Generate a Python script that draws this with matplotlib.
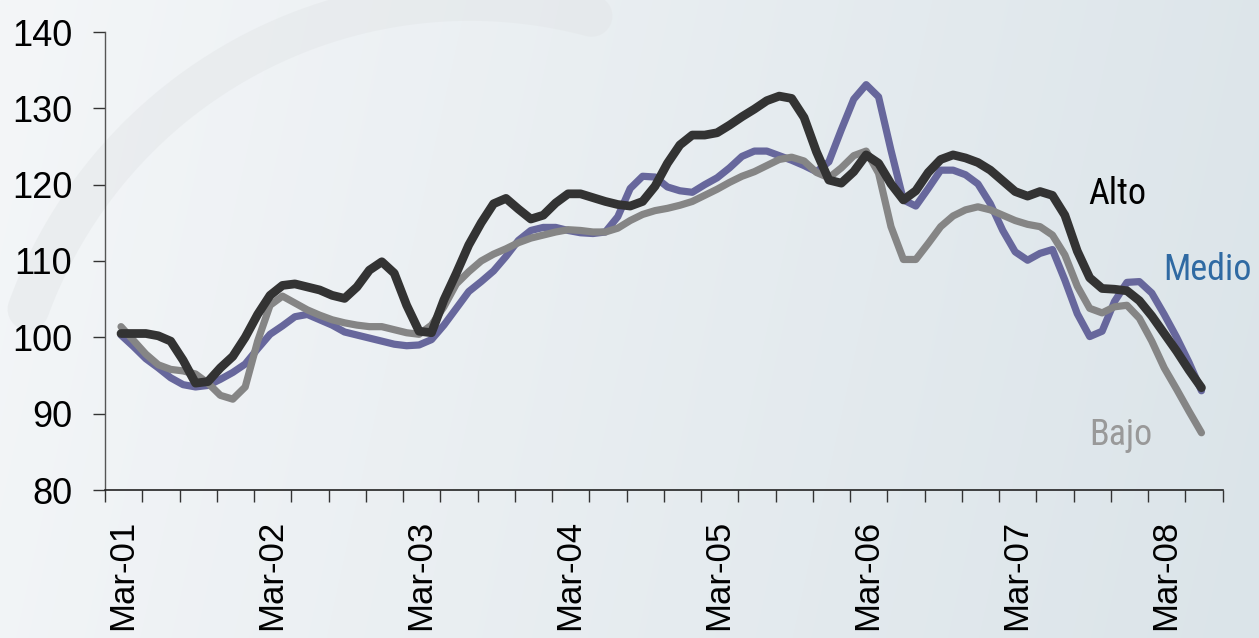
import numpy as np
import matplotlib
matplotlib.use("Agg")
import matplotlib.pyplot as plt
from matplotlib import font_manager
from matplotlib.transforms import blended_transform_factory

# ---- data (monthly, Mar-01 .. Jun-08) ----
alto = [100.5, 100.5, 100.5, 100.2, 99.5, 97.0, 94.0, 94.2, 96.0, 97.5, 100.0, 103.0,
        105.5, 106.8, 107.0, 106.6, 106.2, 105.5, 105.1, 106.6, 108.8, 109.9, 108.4, 104.2,
        100.8, 100.6, 104.9, 108.4, 112.1, 115.0, 117.5, 118.2, 116.8, 115.5, 116.0, 117.6,
        118.8, 118.8, 118.3, 117.8, 117.4, 117.2, 117.8, 119.8, 122.8, 125.2, 126.5, 126.5,
        126.8, 127.8, 128.9, 129.9, 131.0, 131.6, 131.3, 128.8, 124.3, 120.6, 120.2, 121.7,
        123.9, 122.8, 120.1, 118.0, 119.2, 121.6, 123.3, 123.9, 123.5, 122.9, 121.9, 120.5,
        119.1, 118.5, 119.1, 118.6, 116.0, 111.3, 107.8, 106.4, 106.3, 106.1, 104.8, 102.8,
        100.5, 98.2, 95.7, 93.4]
medio = [100.3, 98.8, 97.2, 96.0, 94.7, 93.8, 93.5, 93.7, 94.5, 95.4, 96.5, 98.5,
         100.4, 101.5, 102.7, 103.0, 102.3, 101.6, 100.7, 100.3, 99.9, 99.5, 99.1, 98.9,
         99.0, 99.7, 101.6, 103.8, 106.0, 107.3, 108.7, 110.6, 112.7, 114.0, 114.4, 114.4,
         114.0, 113.7, 113.6, 113.8, 115.8, 119.5, 121.1, 121.0, 119.7, 119.2, 119.0, 120.0,
         120.9, 122.2, 123.7, 124.4, 124.4, 123.8, 123.2, 122.5, 121.7, 123.0, 127.2, 131.2,
         133.1, 131.5, 124.5, 118.0, 117.2, 119.5, 121.9, 121.9, 121.3, 120.1, 117.5, 114.0,
         111.2, 110.1, 111.0, 111.5, 107.5, 103.1, 100.1, 100.8, 104.7, 107.2, 107.3, 105.8,
         103.0, 100.0, 96.7, 93.0]
bajo = [101.4, 99.6, 97.8, 96.4, 95.8, 95.6, 95.2, 94.0, 92.4, 91.9, 93.5, 99.5,
        104.2, 105.4, 104.5, 103.6, 102.9, 102.3, 101.9, 101.6, 101.4, 101.4, 101.0, 100.6,
        100.4, 101.6, 104.0, 107.0, 108.6, 110.0, 110.9, 111.6, 112.4, 113.0, 113.4, 113.8,
        114.1, 114.0, 113.8, 113.8, 114.3, 115.3, 116.1, 116.6, 116.9, 117.3, 117.8, 118.6,
        119.4, 120.3, 121.1, 121.7, 122.5, 123.3, 123.6, 123.1, 121.6, 120.9, 122.2, 123.8,
        124.4, 121.5, 114.5, 110.2, 110.2, 112.3, 114.5, 115.9, 116.7, 117.1, 116.7, 116.0,
        115.3, 114.8, 114.5, 113.4, 110.8, 106.7, 103.8, 103.2, 104.0, 104.2, 102.5, 99.5,
        96.0, 93.2, 90.3, 87.5]
year_labels = ["Mar-01", "Mar-02", "Mar-03", "Mar-04", "Mar-05", "Mar-06", "Mar-07", "Mar-08"]
y_ticks = [80, 90, 100, 110, 120, 130, 140]
series_names = ["Alto", "Medio", "Bajo"]

# ---- fonts ----
names = {f.name for f in font_manager.fontManager.ttflist}
narrow = None
for cand in ["Liberation Sans Narrow", "Arial Narrow", "Roboto Condensed", "Open Sans Condensed"]:
    if cand in names:
        narrow = cand
        break
base_font = "Liberation Sans" if "Liberation Sans" in names else "DejaVu Sans"
plt.rcParams["font.family"] = [base_font, "DejaVu Sans"]

W, H = 1259, 638
fig = plt.figure(figsize=(W / 100, H / 100), dpi=100)

# background gradient (pixel coordinates, y downwards)
bg = fig.add_axes([0, 0, 1, 1])
bg.set_axis_off()
gx = np.linspace(0, 1, W)
gy = np.linspace(0, 1, H)
c0 = np.array([244, 246, 248]) / 255
c1 = np.array([219, 228, 233]) / 255
mix = np.clip(gx[None, :] * 0.9 + gy[:, None] * 0.1, 0, 1)[..., None]
grad = c0[None, None, :] * (1 - mix) + c1[None, None, :] * mix
bg.imshow(grad, aspect="auto", extent=[0, W, H, 0], interpolation="bilinear")
# faint watermark arc
t = np.radians(np.linspace(200, 285, 100))
bg.plot(470 + 470 * np.cos(t), 470 + 470 * np.sin(t), color="#e2e5e7", lw=30, alpha=0.45,
        solid_capstyle="round")
bg.set_xlim(0, W)
bg.set_ylim(H, 0)

left, right = 105 / W, 1222.7 / W
bottom, top = (H - 490) / H, (H - 32) / H
ax = fig.add_axes([left, bottom, right - left, top - bottom])
ax.patch.set_alpha(0)

x = np.arange(len(alto))
ax.plot(x, medio, color="#67679c", lw=5.2, solid_capstyle="round", solid_joinstyle="round", zorder=2)
ax.plot(x, bajo, color="#858585", lw=5.2, solid_capstyle="round", solid_joinstyle="round", zorder=3)
ax.plot(x, alto, color="#333333", lw=6.3, solid_capstyle="round", solid_joinstyle="round", zorder=4)

x0 = -1.29
ax.set_xlim(x0, x0 + 90)
ax.set_ylim(80, 140)
ax.set_xticks([x0 + 3 * k for k in range(31)])
ax.set_xticklabels([])
ax.set_yticks(y_ticks)
ax.set_yticklabels([str(v) for v in y_ticks], fontsize=26)
ax.tick_params(axis="both", direction="out", length=8.6, width=1.0, color="#333333")
ax.tick_params(axis="y", pad=15)
for s in ["top", "right"]:
    ax.spines[s].set_visible(False)
ax.spines["left"].set_color("#555555")
ax.spines["bottom"].set_color("#222222")
ax.spines["left"].set_linewidth(1.0)
ax.spines["bottom"].set_linewidth(1.2)

trans = blended_transform_factory(ax.transData, ax.transAxes)
for k, lab in enumerate(year_labels):
    ax.text(12 * k + 0.1, -30 / 458, lab, rotation=90, ha="center", va="top",
            fontsize=25, transform=trans, clip_on=False)

lab_font = [narrow] if narrow else [base_font]
lab_size = 26 if narrow else 24
fig.text(1088 / W, 1 - 204 / H, series_names[0], color="#000000", fontsize=lab_size,
         family=lab_font, va="baseline", ha="left")
fig.text(1163 / W, 1 - 280 / H, series_names[1], color="#2f6aa3", fontsize=lab_size,
         family=lab_font, va="baseline", ha="left")
fig.text(1089 / W, 1 - 445 / H, series_names[2], color="#999999", fontsize=lab_size,
         family=lab_font, va="baseline", ha="left")

fig.savefig("out.png", dpi=100)
